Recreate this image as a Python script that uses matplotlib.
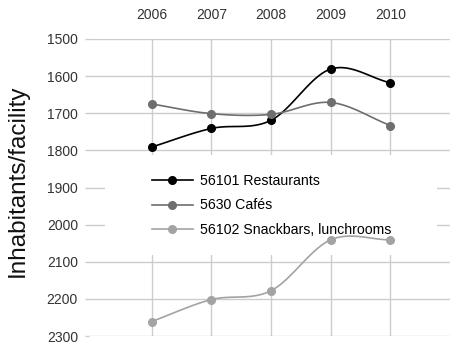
import numpy as np
import matplotlib
matplotlib.use("Agg")
import matplotlib.pyplot as plt
from matplotlib.patches import Rectangle

plt.rcParams['font.family'] = ['Liberation Sans', 'DejaVu Sans']

years = [2006, 2007, 2008, 2009, 2010]
restaurants = [1791, 1741, 1719, 1581, 1618]
cafes = [1675, 1701, 1703, 1671, 1733]
snackbars = [2261, 2202, 2178, 2041, 2041]

labels = ["56101 Restaurants", "5630 Cafés", "56102 Snackbars, lunchrooms"]
colors = ["#000000", "#6e6e6e", "#a3a3a3"]


def smooth(x, y, n=30):
    # catmull-rom style curve through the points (for drawing only)
    x = np.asarray(x, float)
    y = np.asarray(y, float)
    m = np.zeros_like(y)
    m[1:-1] = (y[2:] - y[:-2]) / (x[2:] - x[:-2])
    m[0] = (y[1] - y[0]) / (x[1] - x[0])
    m[-1] = (y[-1] - y[-2]) / (x[-1] - x[-2])
    xs, ys = [], []
    for i in range(len(x) - 1):
        h = x[i + 1] - x[i]
        t = np.linspace(0, 1, n)
        h00 = 2 * t**3 - 3 * t**2 + 1
        h10 = t**3 - 2 * t**2 + t
        h01 = -2 * t**3 + 3 * t**2
        h11 = t**3 - t**2
        xs.append(x[i] + t * h)
        ys.append(h00 * y[i] + h10 * h * m[i] + h01 * y[i + 1] + h11 * h * m[i + 1])
    return np.concatenate(xs), np.concatenate(ys)


fig = plt.figure(figsize=(4.5, 3.47), dpi=100)
ax = fig.add_axes([89 / 450, 1 - 336 / 347, 361 / 450, 297 / 347])

for vals, lab, c in zip([restaurants, cafes, snackbars], labels, colors):
    sx, sy = smooth(years, vals)
    ax.plot(sx, sy, color=c, lw=1.2, zorder=3)
    ax.plot(years, vals, 'o', color=c, ms=5.5, zorder=4)
    ax.plot([], [], '-o', color=c, lw=1.2, ms=5.5, label=lab)

ax.set_xlim(2004.95, 2011)
ax.set_ylim(2300, 1500)
ax.set_xticks(years)
ax.set_yticks(range(1500, 2301, 100))
ax.xaxis.tick_top()
ax.tick_params(axis='x', length=0, pad=12, labelsize=10, labelcolor='#333333')
ax.tick_params(axis='y', length=3, width=1, color='#cccccc', pad=5,
               labelsize=10, labelcolor='#333333')
for s in ax.spines.values():
    s.set_visible(False)
ax.set_axisbelow(True)
ax.grid(True, color='#cccccc', lw=1)

# white area behind the legend
ax.add_patch(Rectangle((0.044, 0.273), 0.92, 0.336, transform=ax.transAxes,
                       facecolor='white', edgecolor='none', zorder=1))

ax.legend(loc='upper left', bbox_to_anchor=(0.158, 0.565), frameon=False,
          fontsize=10.2, handlelength=2.9, handletextpad=0.5, labelspacing=0.75,
          borderaxespad=0)

ax.set_ylabel("Inhabitants/facility", fontsize=17.5, color='#111111')
ax.yaxis.set_label_coords(-0.166, 0.522)

fig.savefig("out.png", dpi=100)
